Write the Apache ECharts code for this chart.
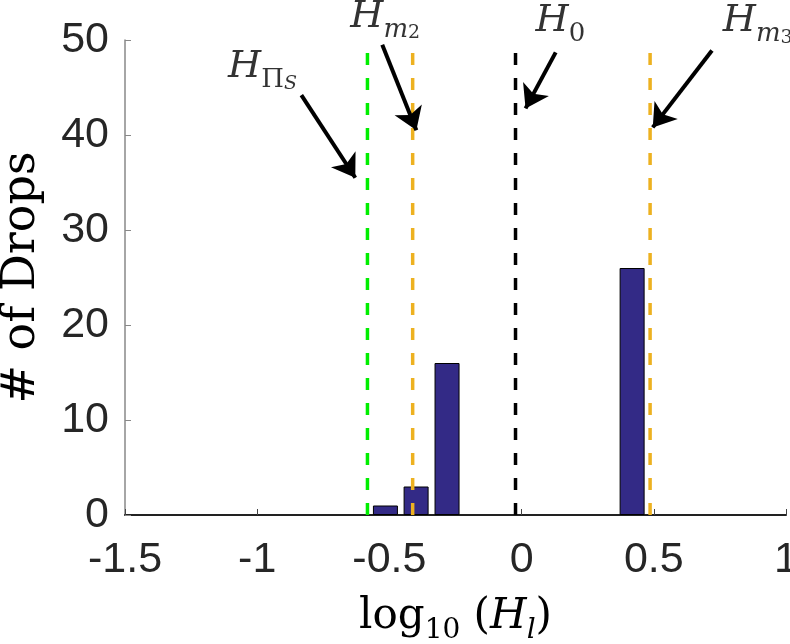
<!DOCTYPE html>
<html>
<head>
<meta charset="utf-8">
<script src="https://cdn.jsdelivr.net/npm/echarts@6/dist/echarts.min.js"></script>
<style>html,body{margin:0;padding:0;background:#fff;overflow:hidden}#c{width:790px;height:644px}</style>
</head>
<body>
<div id="c"></div>
<script>
// Histogram data
const binCenters = [-0.515, -0.399, -0.282, 0.418];
const counts = [1, 3, 16, 26];
const xTicks = [-1.5, -1, -0.5, 0, 0.5, 1];
const yTicks = [0, 10, 20, 30, 40, 50];
// Reference lines
const refNames = ['HPiS', 'Hm2', 'H0', 'Hm3'];
const refX = [-0.583, -0.412, -0.023, 0.486];
const refColors = ['#00ee00', '#EDB120', '#000000', '#EDB120'];
// Annotation arrows (data coords): start, end
const arrowStart = [[-0.833, 44.2], [-0.527, 49.5], [0.129, 48.7], [0.720, 48.9]];
const arrowEnd = [[-0.629, 35.5], [-0.398, 40.5], [0.015, 42.8], [0.496, 40.8]];
// Annotation text anchors (left, bottom) in data coords
const labelPos = [[-1.110, 44.4], [-0.648, 49.7], [0.053, 49.2], [0.761, 49.2]];
const labelText = [
  '{H|H}{s0|Π}{ss|S}',
  '{H|H}{s|m}{ss0|2}',
  '{H|H}{s0|0}',
  '{H|H}{s|m}{ss0|3}'
];

const serif = '"DejaVu Serif", "Liberation Serif", serif';
const sans = '"Liberation Sans", Arial, sans-serif';
const richLab = {
  H: {fontFamily: serif, fontStyle: 'italic', fontSize: 38, color: '#000', verticalAlign: 'bottom', padding: [0, 0, 7, 0]},
  s: {fontFamily: serif, fontStyle: 'italic', fontSize: 26, color: '#000', verticalAlign: 'bottom'},
  s0: {fontFamily: serif, fontSize: 26, color: '#000', verticalAlign: 'bottom'},
  ss: {fontFamily: serif, fontStyle: 'italic', fontSize: 19, color: '#000', verticalAlign: 'bottom'},
  ss0: {fontFamily: serif, fontSize: 19, color: '#000', verticalAlign: 'bottom'}
};

const chart = echarts.init(document.getElementById('c'));
const series = [];
series.push({
  type: 'bar',
  data: binCenters.map((x, i) => [x, counts[i]]),
  barWidth: 25,
  itemStyle: {color: '#332a86', borderColor: '#000', borderWidth: 1},
  z: 3
});
refX.forEach((x, i) => {
  series.push({
    type: 'line', name: refNames[i],
    data: [[x, 0], [x, 50]],
    symbol: 'none',
    lineStyle: {color: refColors[i], width: 3.5, type: [12, 13]},
    z: 4
  });
});
series.push({
  type: 'lines',
  coordinateSystem: 'cartesian2d',
  clip: false,
  symbol: ['none', 'arrow'],
  symbolSize: [15, 22],
  lineStyle: {color: '#000', width: 4, opacity: 1},
  data: arrowStart.map((s, i) => ({coords: [s, arrowEnd[i]]})),
  z: 6
});
series.push({
  type: 'scatter',
  clip: false,
  symbolSize: 0,
  data: labelPos,
  label: {
    show: true,
    position: [0, 0],
    align: 'left',
    verticalAlign: 'bottom',
    formatter: p => labelText[p.dataIndex],
    rich: richLab
  },
  z: 7
});

chart.setOption({
  animation: false,
  backgroundColor: '#fff',
  grid: {left: 125, right: 4, top: 40, bottom: 129, containLabel: false, outerBoundsMode: 'none'},
  xAxis: {
    type: 'value', min: -1.5, max: 1, interval: 0.5,
    axisLine: {show: true, onZero: false, lineStyle: {color: '#222', width: 2}},
    axisTick: {show: true, inside: true, length: 6, lineStyle: {color: '#444'}},
    splitLine: {show: false},
    axisLabel: {fontFamily: sans, fontSize: 43, color: '#262626', margin: 24,
      hideOverlap: false, showMaxLabel: true, showMinLabel: true,
      formatter: v => String(v)},
    name: '{r|log}{sub|10}{r| (}{it|H}{sub2|l}{r|)}',
    nameLocation: 'middle', nameGap: 81,
    nameTextStyle: {
      rich: {
        r: {fontFamily: serif, fontSize: 42, color: '#000', verticalAlign: 'bottom', padding: [0, 0, 7, 0]},
        it: {fontFamily: serif, fontStyle: 'italic', fontSize: 42, color: '#000', verticalAlign: 'bottom', padding: [0, 0, 7, 0]},
        sub: {fontFamily: serif, fontSize: 28, color: '#000', verticalAlign: 'bottom'},
        sub2: {fontFamily: serif, fontStyle: 'italic', fontSize: 28, color: '#000', verticalAlign: 'bottom'}
      }
    }
  },
  yAxis: {
    type: 'value', min: 0, max: 50, interval: 10,
    axisLine: {show: true, onZero: false, lineStyle: {color: '#888', width: 1.5}},
    axisTick: {show: true, inside: true, length: 6, lineStyle: {color: '#888'}},
    splitLine: {show: false},
    axisLabel: {fontFamily: sans, fontSize: 43, color: '#262626', margin: 16},
    name: '# of Drops',
    nameLocation: 'middle', nameGap: 80,
    nameTextStyle: {fontFamily: serif, fontSize: 46, color: '#000'}
  },
  series: series
});
</script>
</body>
</html>
